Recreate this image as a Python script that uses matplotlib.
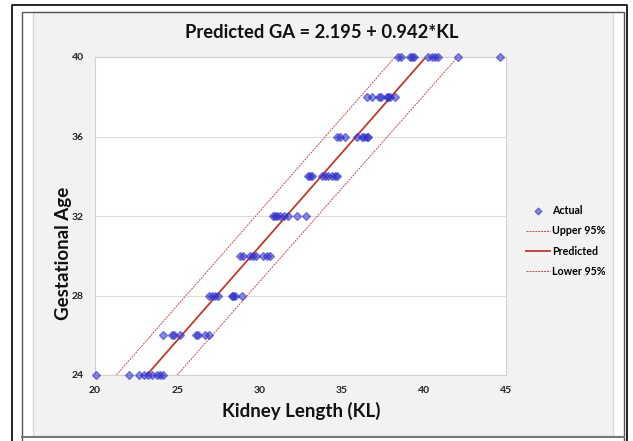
import matplotlib
matplotlib.use('Agg')
import matplotlib.pyplot as plt
from matplotlib.patches import Rectangle
from matplotlib.lines import Line2D

plt.rcParams['font.family'] = ['Lato', 'DejaVu Sans']

# Actual data: kidney length (KL) by gestational age (GA)
ga_levels = [24, 26, 28, 30, 32, 34, 36, 38, 40]
kl_by_ga = [
    [20.06, 22.09, 22.70, 22.98, 23.24, 23.45, 23.79, 23.95, 24.11],
    [24.16, 24.66, 24.81, 25.17, 26.14, 26.28, 26.69, 26.95],
    [26.95, 27.10, 27.30, 27.50, 28.31, 28.41, 28.52, 28.92],
    [28.82, 28.98, 29.43, 29.63, 29.77, 30.20, 30.44, 30.64],
    [30.81, 30.95, 31.05, 31.25, 31.50, 31.76, 32.31, 32.83],
    [32.98, 33.08, 33.18, 33.79, 33.99, 34.19, 34.40, 34.60, 34.74],
    [34.70, 34.90, 35.21, 35.92, 36.22, 36.36, 36.52, 36.63],
    [36.57, 36.83, 37.30, 37.40, 37.74, 37.84, 37.94, 38.25],
    [38.45, 38.61, 39.16, 39.30, 39.42, 40.28, 40.48, 40.68, 40.88, 42.10, 44.63],
]

# Fitted line and 95% bounds (end points)
line_ga = [24, 40]
pred_kl = [23.15, 40.13]
upper_kl = [21.30, 38.25]
lower_kl = [25.00, 42.06]

x_ticks = [20, 25, 30, 35, 40, 45]
y_ticks = [24, 28, 32, 36, 40]

W, H = 633, 441
fig = plt.figure(figsize=(W / 100, H / 100), dpi=100)
fig.patch.set_facecolor('white')

# frame / background panel in pixel coords
bg = fig.add_axes([0, 0, 1, 1])
bg.set_xlim(0, W)
bg.set_ylim(H, 0)
bg.axis('off')
bg.add_patch(Rectangle((33, 12), 580, 424, facecolor='#f2f2f2', edgecolor='#d9d9d9', lw=1))
bg.plot([12, 12, 627, 627], [441, 5, 5, 441], color='black', lw=1.2)
bg.plot([22, 22, 624, 624], [441, 12, 12, 441], color='#555555', lw=1.0)
bg.plot([22, 624], [437, 437], color='#777777', lw=1.5)

ax = fig.add_axes([95 / W, 1 - 375 / H, (506 - 95) / W, (375 - 57) / H])
ax.set_facecolor('white')

for ga, kls in zip(ga_levels, kl_by_ga):
    ax.plot(kls, [ga] * len(kls), linestyle='none', marker='D', markersize=4.0,
            color='#2e2ec8', markeredgecolor='#2e2ec8', alpha=0.55, zorder=3, clip_on=False)

ax.plot(upper_kl, line_ga, color='#c0504d', lw=0.7, linestyle=(0, (2, 1)), zorder=2)
ax.plot(pred_kl, line_ga, color='#c0392b', lw=1.3, zorder=2)
ax.plot(lower_kl, line_ga, color='#c0504d', lw=0.7, linestyle=(0, (2, 1)), zorder=2)

ax.set_xlim(20, 45)
ax.set_ylim(24, 40)
ax.set_xticks(x_ticks)
ax.set_yticks(y_ticks)
ax.grid(axis='y', color='#dcdcdc', lw=0.8)
ax.set_axisbelow(True)
for s in ax.spines.values():
    s.set_color('#d0d0d0')
ax.tick_params(length=0, labelsize=7.5, pad=8, colors='#222222')
for lbl in ax.get_xticklabels() + ax.get_yticklabels():
    lbl.set_fontweight('bold')

fig.text(322 / W, 1 - 33 / H, 'Predicted GA = 2.195 + 0.942*KL', ha='center', va='center',
         fontsize=13.2, fontweight='bold', color='#111111')
fig.text(301 / W, 1 - 411 / H, 'Kidney Length (KL)', ha='center', va='center',
         fontsize=13.5, fontweight='bold', color='#111111')
fig.text(64 / W, 1 - 253 / H, 'Gestational Age', ha='center', va='center', rotation=90,
         fontsize=13.5, fontweight='bold', color='#111111')

handles = [
    Line2D([], [], linestyle='none', marker='D', markersize=3.5, color='#2e2ec8', alpha=0.55),
    Line2D([], [], color='#c0504d', lw=0.7, linestyle=(0, (2, 1))),
    Line2D([], [], color='#c0392b', lw=1.3),
    Line2D([], [], color='#c0504d', lw=0.7, linestyle=(0, (2, 1))),
]
fig.legend(handles, ['Actual', 'Upper 95%', 'Predicted', 'Lower 95%'],
           loc='center left', bbox_to_anchor=(526 / W, 1 - 241 / H), frameon=False,
           prop={'size': 7.7, 'weight': 'bold'}, handlelength=2.2, handletextpad=0.2,
           labelspacing=0.85, borderaxespad=0, borderpad=0)

fig.savefig('out.png', dpi=100)
